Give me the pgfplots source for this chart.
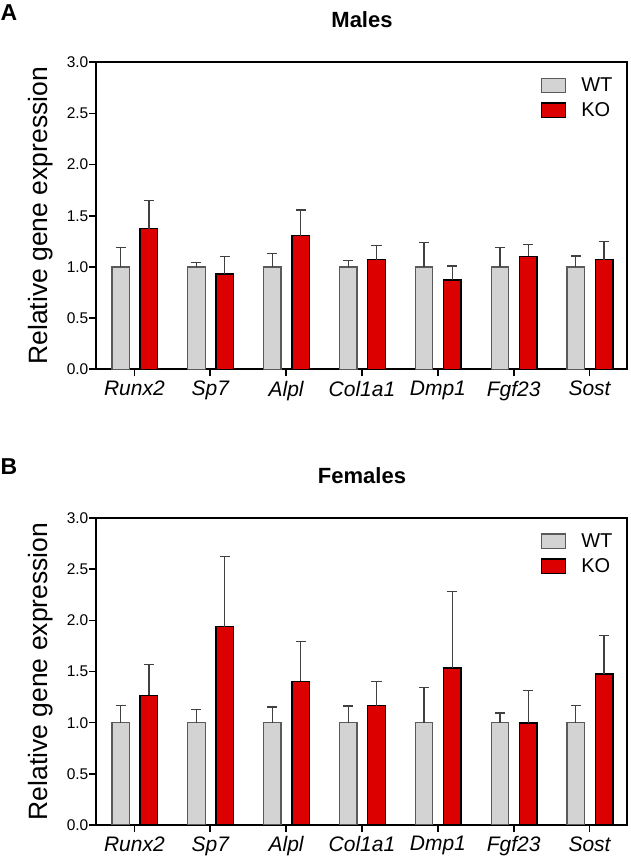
\documentclass[border=0pt]{standalone}
\usepackage{fontspec}
\setmainfont{Liberation Sans}
\usepackage{pgfplots}
\usepackage{pgfplotstable}
\pgfplotsset{compat=1.18}

\definecolor{wtfill}{HTML}{D3D3D3}
\definecolor{wtedge}{HTML}{5A5A5A}
\definecolor{kofill}{HTML}{DD0000}

\pgfplotstableread{
x y e
0 1.0 0.190
1 1.0 0.046
2 1.0 0.131
3 1.0 0.062
4 1.0 0.236
5 1.0 0.190
6 1.0 0.108
}\maleWT
\pgfplotstableread{
x y e
0 1.374 0.272
1 0.931 0.169
2 1.305 0.252
3 1.072 0.135
4 0.872 0.138
5 1.105 0.115
6 1.072 0.177
}\maleKO
\pgfplotstableread{
x y e
0 1.0 0.170
1 1.0 0.127
2 1.0 0.154
3 1.0 0.163
4 1.0 0.346
5 1.0 0.095
6 1.0 0.170
}\femWT
\pgfplotstableread{
x y e
0 1.268 0.297
1 1.938 0.686
2 1.405 0.392
3 1.167 0.238
4 1.536 0.745
5 0.997 0.320
6 1.477 0.373
}\femKO

\pgfplotsset{
  genestyle/.style={
    scale only axis, width=531pt, height=307pt,
    xmin=-0.5, xmax=6.5, ymin=0, ymax=3,
    xtick={0,1,2,3,4,5,6},
    xticklabels={Runx2,Sp7,Alpl,Col1a1,Dmp1,Fgf23,Sost},
    ytick={0,0.5,1,1.5,2,2.5,3},
    /pgf/number format/assume math mode=true,
    yticklabel style={/pgf/number format/fixed, /pgf/number format/fixed zerofill,
      /pgf/number format/precision=1, font=\fontsize{15.5}{15.5}\selectfont, inner xsep=1pt},
    xticklabel style={font=\fontsize{21}{21}\selectfont\itshape, yshift=-1pt},
    tick align=outside, xtick pos=bottom, ytick pos=left,
    major tick length=7pt,
    axis line style={line width=2pt},
    tick style={line width=1.6pt, black},
    ylabel={Relative gene expression},
    ylabel style={font=\fontsize{26.5}{26.5}\selectfont, at={(axis description cs:-0.106,0.5)}, anchor=center},
    title style={font=\fontsize{22}{22}\selectfont\bfseries, at={(axis description cs:0.5,1.12)}, anchor=center},
    ybar, bar width=17.5pt,
    error bars/y dir=plus, error bars/y explicit,
    error bars/error bar style={line width=1.2pt, color=black!75},
    error bars/error mark options={rotate=90, mark size=5pt, line width=1.2pt, color=black!75},
    legend image code/.code={\draw[#1] (0pt,-7.3pt) rectangle (24pt,7.3pt);},
    legend cell align=left,
    legend style={draw=none, fill=none, at={(axis description cs:0.8365,0.951)}, anchor=north west,
      inner xsep=0pt, inner ysep=0pt,
      font=\fontsize{20}{20}\selectfont, row sep=9pt,
      nodes={inner xsep=0pt, inner ysep=0pt},
      /tikz/every odd column/.append style={column sep=15pt}},
  },
  wt/.style={fill=wtfill, draw=wtedge, line width=1.3pt, bar shift=-13.8pt},
  ko/.style={fill=kofill, draw=black, line width=1.4pt, bar shift=14.5pt},
}

\begin{document}
\begin{tikzpicture}
\useasboundingbox (0,0) rectangle (630pt,859pt);
\begin{axis}[genestyle, at={(96.5pt,489.7pt)}, anchor=south west, title={Males}]
  \addplot[wt] table[x=x, y=y, y error=e] {\maleWT};
  \addplot[ko] table[x=x, y=y, y error=e] {\maleKO};
  \legend{WT,KO}
\end{axis}
\begin{axis}[genestyle, at={(96.5pt,34pt)}, anchor=south west, title={Females}]
  \addplot[wt] table[x=x, y=y, y error=e] {\femWT};
  \addplot[ko] table[x=x, y=y, y error=e] {\femKO};
  \legend{WT,KO}
\end{axis}
\node[font=\fontsize{23}{23}\selectfont\bfseries] at (9pt,846.5pt) {A};
\node[font=\fontsize{23}{23}\selectfont\bfseries] at (9pt,392.5pt) {B};
\end{tikzpicture}
\end{document}
